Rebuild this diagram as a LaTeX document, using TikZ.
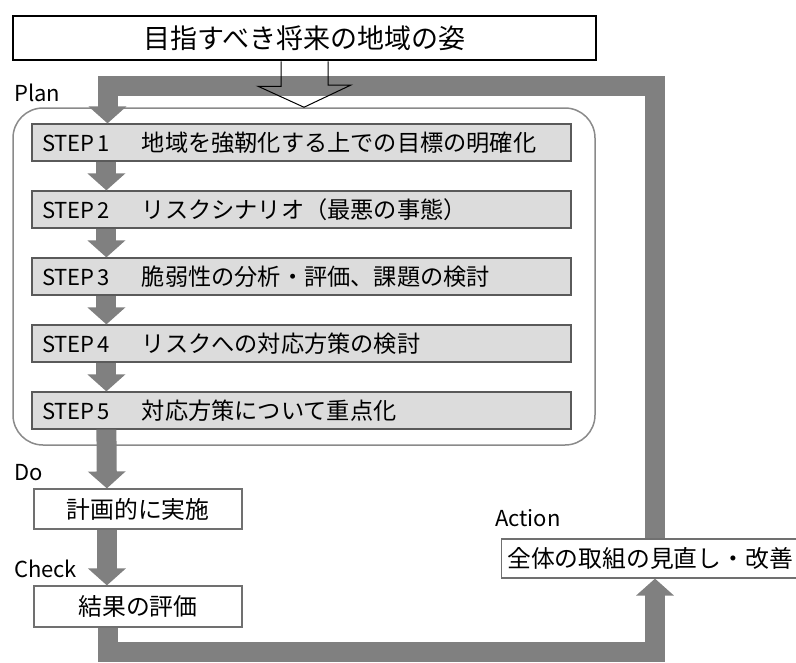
\documentclass[tikz,border=0pt]{standalone}
\usepackage{fontspec}
\setmainfont{Noto Sans CJK JP}
\usetikzlibrary{arrows.meta}
\definecolor{bandgray}{HTML}{808080}
\definecolor{stepfill}{HTML}{DCDCDC}
\definecolor{stepline}{HTML}{5A5A5A}
\definecolor{groupline}{HTML}{8A8A8A}
\definecolor{boxline}{HTML}{707070}
\newcommand{\steplabel}[1]{\makebox[100pt][l]{\fontsize{22}{24}\selectfont STEP\hspace{3pt}#1}}
\begin{document}
\begin{tikzpicture}[x=1pt,y=-1pt,
  stepbox/.style={draw=stepline, line width=1.2pt, fill=stepfill, minimum width=539pt, minimum height=37pt,
    inner xsep=10pt, inner ysep=0pt, text width=519pt, align=left, font=\fontsize{23.2}{25}\selectfont},
  plainbox/.style={draw=boxline, line width=1.2pt, fill=white, minimum height=40pt, inner sep=0pt,
    font=\fontsize{23.8}{25}\selectfont},
  phase/.style={anchor=base west, inner sep=0pt, font=\fontsize{22}{24}\selectfont},
  garrow/.style={draw=bandgray, line width=20pt, line join=miter,
    -{Triangle[width=37pt,length=17pt]}},
]
\useasboundingbox (0,0) rectangle (796,662);

% title
\node[draw=black, line width=2.5pt, minimum width=583pt, minimum height=44pt, inner sep=0pt,
  font=\fontsize{27}{29}\selectfont] (title) at (304.5,38) {目指すべき将来の地域の姿};

% plan group
\node[draw=groupline, line width=1.5pt, rounded corners=30pt, minimum width=582pt, minimum height=337pt]
  (group) at (304,276.5) {};

% steps
\node[stepbox] (s1) at (301.5,142.5) {\steplabel{1}地域を強靭化する上での目標の明確化};
\node[stepbox] (s2) at (301.5,209.5) {\steplabel{2}リスクシナリオ（最悪の事態）};
\node[stepbox] (s3) at (301.5,276.5) {\steplabel{3}脆弱性の分析・評価、課題の検討};
\node[stepbox] (s4) at (301.5,343.5) {\steplabel{4}リスクへの対応方策の検討};
\node[stepbox] (s5) at (301.5,410.5) {\steplabel{5}対応方策について重点化};

% do / check / action
\node[plainbox, minimum width=208pt] (do) at (138,509) {計画的に実施};
\node[plainbox, minimum width=208pt, minimum height=41pt] (check) at (138,606.5) {結果の評価};
\node[plainbox, minimum width=297pt, minimum height=39pt] (action) at (650,558.5) {全体の取組の見直し・改善};

% phase labels
\node[phase] (lplan) at (14,101) {Plan};
\node[phase] (ldo) at (14,480) {Do};
\node[phase] (lcheck) at (14,577) {Check};
\node[phase] (laction) at (495,526) {Action};

% arrows between steps
\foreach \a/\b in {s1/s2, s2/s3, s3/s4, s4/s5}{
  \draw[garrow] ([xshift=75pt]\a.south west) -- ([xshift=75pt]\b.north west);
}
\draw[garrow] ([xshift=75pt]s5.south west) -- ([xshift=73.5pt]do.north west);
\draw[garrow] ([xshift=73.5pt]do.south west) -- ([xshift=73.5pt]check.north west);

% loop: check -> action -> plan
\coordinate (lx) at (107.5,0);
\coordinate (rx) at (655,0);
\draw[garrow] (lx |- check.south) -- (107.5,652) -- (655,652) -- (rx |- action.south);
\draw[garrow] (rx |- action.north) -- (655,86) -- (107.5,86) -- (lx |- s1.north);

% hollow arrow from title to plan group
\draw[black, line width=1pt] ([xshift=-23.5pt]title.south) -- ++(0,25) -- ++(-23,0)
  -- (group.north) -- ([xshift=47pt]group.north |- 0,85) -- ([xshift=23.5pt]title.south |- 0,85)
  -- ([xshift=23.5pt]title.south);
\end{tikzpicture}
\end{document}
